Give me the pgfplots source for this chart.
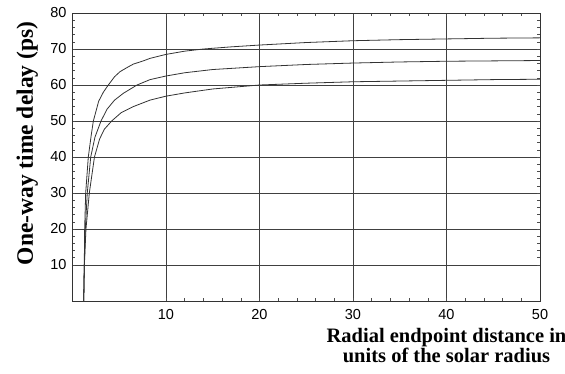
\documentclass[border=0pt]{standalone}
\usepackage{fontspec}
\setmainfont{Liberation Serif}
\newfontfamily\arial{Liberation Sans}
\usepackage{pgfplots}
\pgfplotsset{compat=1.18}
\begin{document}
\begin{tikzpicture}[x=1pt,y=1pt]
\begin{axis}[
 at={(0,0)}, anchor=south west,
 scale only axis, width=467.5pt, height=288pt,
 xmin=0, xmax=50, ymin=0, ymax=80,
 xtick={10,20,30,40,50}, ytick={10,20,...,80},
 minor x tick num=4, minor y tick num=4,
 tick align=inside, major tick length=3pt, minor tick length=3pt,
 grid=major, major grid style={black!75, line width=0.8pt},
 axis line style={black!80, line width=0.9pt},
 tick style={black!70, line width=0.6pt},
 ticklabel style={font=\arial\fontsize{14.5}{17}\selectfont},
 /pgf/number format/assume math mode=true,
 xticklabel style={yshift=-4.5pt},
 yticklabel style={xshift=-2.5pt},
 xlabel={Radial endpoint distance in\\units of the solar radius},
 xlabel style={font=\bfseries\fontsize{20.5}{20}\selectfont, align=center, inner sep=0pt,
   at={(axis description cs:0.80,0)}, anchor=north, yshift=-27.2pt},
 ylabel={One-way time delay (ps)},
 ylabel style={font=\bfseries\fontsize{23.5}{26}\selectfont, inner sep=0pt,
   at={(axis description cs:-0.0845,0.547)}, anchor=base},
]
\addplot[black!80, line width=0.8pt] coordinates {
(1.2,0) (1.23,5) (1.26,10) (1.3,20) (1.41,30) (1.69,40) (2.0,46) (2.23,50) (2.8,55.5) (3.3,58) (3.83,60) (4.5,62.3) (5.08,63.7) (5.8,64.8) (6.5,65.8) (7.57,66.7) (8.29,67.4) (10,68.5) (12,69.4) (14,70.0) (17,70.6) (20,71.1) (25,71.8) (30,72.3) (35,72.6) (40,72.8) (45,73.0) (50,73.1)};
\addplot[black!80, line width=0.8pt] coordinates {
(1.2,0) (1.23,5) (1.27,10) (1.37,20) (1.58,30) (1.95,40) (2.4,45.5) (3.05,50) (3.7,53.3) (4.5,55.8) (5.44,57.7) (6.9,60) (8.3,61.5) (10,62.5) (12,63.4) (15,64.3) (20,65.1) (25,65.7) (30,66.1) (35,66.4) (40,66.6) (45,66.7) (50,66.8)};
\addplot[black!80, line width=0.8pt] coordinates {
(1.2,0) (1.23,5) (1.27,10) (1.44,20) (1.8,30) (2.35,40) (2.9,45) (3.4,47.7) (4.19,50) (5.2,52.3) (6.5,54.0) (8.29,55.8) (10,56.9) (12,57.8) (15,58.9) (20,60.0) (25,60.5) (30,60.9) (35,61.1) (40,61.3) (45,61.5) (50,61.6)};
\end{axis}
\pgfresetboundingbox
\useasboundingbox (-72.5,-73) rectangle (492.5,301);
\end{tikzpicture}
\end{document}
